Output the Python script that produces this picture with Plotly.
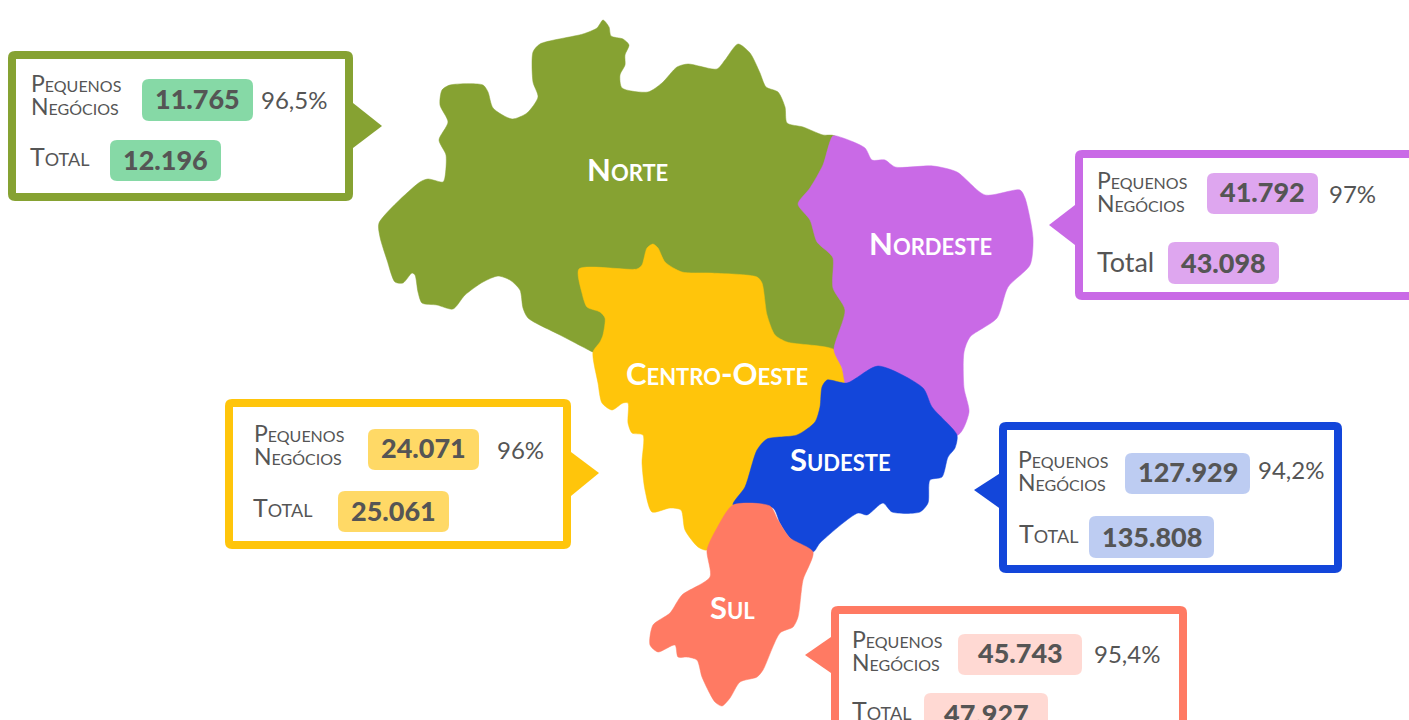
import plotly.graph_objects as go

# ---- data ----
regions = ["Norte", "Nordeste", "Centro-Oeste", "Sudeste", "Sul"]
small_business = [11765, 41792, 24071, 127929, 45743]
totals = [12196, 43098, 25061, 135808, 47927]
shares = ["96,5%", "97%", "96%", "94,2%", "95,4%"]

norte_outline = [(379,223),(420,182),(428,179),(443,182),(445,177),(446,155),(439,140),(448,122),(440,105),(442,90),(450,85),(483,85),(488,92),(493,108),(512,119),(527,113),(538,97),(533,82),(533,52),(540,44),(583,34),(597,28),(603,20),(609,27),(611,36),(623,39),(629,45),(625,55),(625,65),(620,75),(622,88),(648,92),(662,83),(677,67),(688,64),(717,69),(725,60),(738,44),(750,53),(760,73),(766,87),(778,92),(785,107),(787,123),(803,127),(823,135),(835,136),(880,200),(880,350),(700,360),(600,352),(593,352),(583,347),(560,335),(528,318),(523,308),(520,290),(510,280),(498,276),(483,282),(465,295),(453,309),(437,305),(422,303),(418,292),(415,275),(412,273),(403,283),(395,282),(387,260),(380,237)]
centro_outline = [(579,269),(637,269),(642,265),(647,248),(653,244),(658,248),(665,262),(682,272),(710,273),(757,277),(762,283),(767,315),(775,335),(787,342),(835,350),(842,368),(850,400),(850,450),(800,480),(740,510),(707,550),(698,547),(685,530),(681,510),(670,508),(652,512),(645,490),(642,463),(643,435),(632,433),(628,423),(628,403),(623,403),(612,410),(602,403),(598,383),(593,352),(600,342),(603,335),(605,318),(600,312),(587,307),(582,293)]
nordeste_outline = [(833,136),(843,138),(865,148),(872,160),(885,160),(895,167),(933,166),(957,172),(985,195),(1020,190),(1025,198),(1033,238),(1030,265),(1008,287),(997,318),(970,337),(964,352),(964,388),(969,412),(958,435),(900,420),(850,395),(845,383),(842,368),(834,350),(845,310),(833,288),(833,258),(828,252),(817,242),(810,220),(798,204),(810,188),(823,165)]
sudeste_outline = [(827,380),(847,383),(878,366),(923,388),(932,407),(957,435),(955,448),(948,457),(942,477),(930,480),(928,503),(920,512),(892,512),(883,503),(867,515),(858,513),(820,543),(813,552),(790,538),(780,523),(773,508),(733,505),(745,487),(757,450),(767,439),(797,435),(815,422),(820,407),(822,387)]
sul_outline = [(733,505),(770,506),(778,520),(790,538),(813,552),(803,580),(798,617),(793,627),(780,633),(763,670),(757,677),(740,682),(730,698),(722,706),(715,702),(702,677),(697,660),(687,657),(678,657),(675,645),(658,652),(650,645),(653,625),(670,613),(682,595),(710,577),(707,550),(717,528)]

# ---- styles and layout ----
FONT = "Lato"
TEXT = "#555555"
main_colors = {"Norte":"#86A232","Nordeste":"#C96AE6","Centro-Oeste":"#FFC50B","Sudeste":"#1346DA","Sul":"#FF7A63"}
pill_colors = {"Norte":"#86D9A6","Nordeste":"#DEA6EF","Centro-Oeste":"#FFD966","Sudeste":"#BDCCF2","Sul":"#FFD9D3"}
draw_order = [("Norte",norte_outline),("Centro-Oeste",centro_outline),("Nordeste",nordeste_outline),("Sudeste",sudeste_outline),("Sul",sul_outline)]
label_pos = {"Norte":(627,169),"Nordeste":(930,243),"Centro-Oeste":(717,373),"Sudeste":(840,459),"Sul":(732,607)}

cards = {
 "Norte":dict(box=(8,51,353,201),arrow=[(353,103),(382,126),(353,148)],p1=(142,79,253,121),p2=(110,140,221,181),
              lab=(29,94),tot=(28,156),share=(294,99),smallcaps=True),
 "Nordeste":dict(box=(1075,150,1440,300),arrow=[(1075,205),(1049,225),(1075,245)],p1=(1207,173,1318,214),p2=(1168,242,1279,284),
              lab=(1095,191.5),tot=(1095,261),share=(1352,193),smallcaps=False),
 "Centro-Oeste":dict(box=(225,399,571,549),arrow=[(571,452),(599,473),(571,496)],p1=(368,429,479,470),p2=(338,491,449,532),
              lab=(252,444),tot=(251,507),share=(520,449),smallcaps=True),
 "Sudeste":dict(box=(999,422,1342,573),arrow=[(1002,472),(974,490),(1002,510)],p1=(1125,453,1250,494),p2=(1089,516,1214,558),
              lab=(1016,470.5),tot=(1017,533),share=(1291,469),smallcaps=True),
 "Sul":dict(box=(831,606,1187,770),arrow=[(831,637),(805,655),(831,673)],p1=(958,634,1082,675),p2=(924,693,1048,735),
              lab=(850,650.5),tot=(850,710),share=(1127,653),smallcaps=True),
}

def rounded(x0,y0,x1,y1,r):
    return (f"M{x0+r},{y0} L{x1-r},{y0} Q{x1},{y0} {x1},{y0+r} L{x1},{y1-r} Q{x1},{y1} {x1-r},{y1} "
            f"L{x0+r},{y1} Q{x0},{y1} {x0},{y1-r} L{x0},{y0+r} Q{x0},{y0} {x0+r},{y0} Z")

def fmt(v):
    return f"{v:,}".replace(",",".")

fig = go.Figure()
for name, outline in draw_order:
    xs = [p[0] for p in outline] + [outline[0][0]]
    ys = [p[1] for p in outline] + [outline[0][1]]
    fig.add_trace(go.Scatter(x=xs,y=ys,mode="lines",fill="toself",fillcolor=main_colors[name],
                             line=dict(color=main_colors[name],width=0.5,shape="spline",smoothing=0.7),
                             hoverinfo="skip",showlegend=False))

shapes=[]; ann=[]
def text(x,y,t,size,color=TEXT,anchor="left",weight="normal",variant="normal"):
    ann.append(dict(x=x,y=y,xref="x",yref="y",text=t,showarrow=False,xanchor=anchor,yanchor="middle",align="left",
                    font=dict(family=FONT,size=size,color=color,weight=weight,variant=variant)))

LAB = "<span style='font-size:23px'>Pequenos</span><br><span style='font-size:23px'>Negócios</span>"
for i,name in enumerate(regions):
    c=cards[name]; col=main_colors[name]; pill=pill_colors[name]
    x0,y0,x1,y1=c["box"]
    (ax0,ay0),(ax1,ay1),(ax2,ay2)=c["arrow"]
    shapes.append(dict(type="path",path=f"M{ax0},{ay0} L{ax1},{ay1} L{ax2},{ay2} Z",fillcolor=col,line=dict(width=0),xref="x",yref="y"))
    shapes.append(dict(type="path",path=rounded(x0+4,y0+4,x1-4,y1-4,3),fillcolor="white",line=dict(color=col,width=8),xref="x",yref="y"))
    for key in ("p1","p2"):
        a,b,d,e=c[key]
        shapes.append(dict(type="path",path=rounded(a,b,d,e,7),fillcolor=pill,line=dict(width=0),xref="x",yref="y"))
    text(c["lab"][0],c["lab"][1],LAB,18,variant="small-caps")
    if c["smallcaps"]:
        text(c["tot"][0],c["tot"][1],"Total",25,variant="small-caps")
    else:
        text(c["tot"][0],c["tot"][1],"Total",27)
    a,b,d,e=c["p1"]
    text((a+d)/2,(b+e)/2-2,fmt(small_business[i]),27,anchor="center",weight=900)
    a,b,d,e=c["p2"]
    text((a+d)/2,(b+e)/2-1,fmt(totals[i]),27,anchor="center",weight=900)
    text(c["share"][0],c["share"][1],shares[i],24,anchor="center")
    lx,ly=label_pos[name]
    text(lx,ly,name,31,color="white",anchor="center",weight="bold",variant="small-caps")

fig.update_layout(width=1409,height=720,margin=dict(l=0,r=0,t=0,b=0),paper_bgcolor="white",plot_bgcolor="white",
    xaxis=dict(range=[0,1409],visible=False,fixedrange=True),
    yaxis=dict(range=[720,0],visible=False,fixedrange=True),
    shapes=shapes,annotations=ann,showlegend=False)
fig.write_html("out.html",config=dict(displayModeBar=False),
    post_script="document.body.style.margin='0';document.body.style.overflow='hidden';")
